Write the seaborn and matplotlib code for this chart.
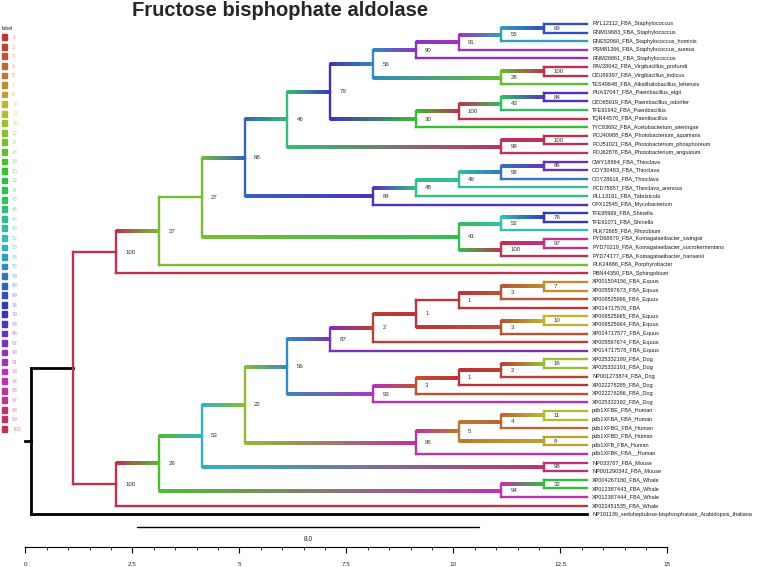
import matplotlib
matplotlib.use("Agg")
import matplotlib.pyplot as plt
import seaborn as sns
import numpy as np
from matplotlib.collections import LineCollection
from matplotlib.patches import Patch

title = "Fructose bisphophate aldolase"

# bootstrap values shown in the legend (discrete colour levels)
support_levels = [1, 2, 3, 4, 5, 7, 8, 10, 11, 16, 22, 27, 28, 29, 30, 32, 41, 43, 46, 48,
                  49, 52, 53, 55, 56, 58, 68, 69, 76, 79, 84, 86, 87, 90, 91, 93, 94, 95,
                  97, 98, 99, 100]

# tree topology with support values as node labels
staph_clade = ("(((((RYL12112_FBA_Staphylococcus,RNM19683_FBA_Staphylococcus)69,"
               "RNE52060_FBA_Staphylococcus_hominis)55,PSM81266_FBA_Staphylococcus_aureus)91,"
               "RNM26861_FBA_Staphylococcus)90,((PAV28042_FBA_Virgibacillus_profundi,"
               "OZU89397_FBA_Virgibacillus_indicus)100,TES49648_FBA_Alkalihalobacillus_lehensis)28)56")
paeni_clade = ("((((PUA37047_FBA_Paenibacillus_elgii,OZO65919_FBA_Paenibacillus_odorifer)84,"
               "TFE91942_FBA_Paenibacillus)43,TQR44570_FBA_Paenibacillus)100,"
               "TYC83692_FBA_Acetobacterium_wieringae)30")
photo_clade = ("((POJ40988_FBA_Photobacterium_aquimaris,POJ51021_FBA_Photobacterium_phosphoreum)100,"
               "POJ62876_FBA_Photobacterium_angustum)99")
thio_clade = ("(((((OWY18864_FBA_Thioclava,OOY30483_FBA_Thioclava)86,OOY28616_FBA_Thioclava)58,"
              "PCD75857_FBA_Thioclava_arenosa)49,PLL13161_FBA_Tabrizicola)48,OPX12545_FBA_Mycobacterium)84")
alpha_clade = ("(((TFE95969_FBA_Shinella,TFE91071_FBA_Shinella)76,PLK72665_FBA_Rhizobium)52,"
               "((PYD68870_FBA_Komagataeibacter_swingsii,PYD70219_FBA_Komagataeibacter_sucrofermentans)97,"
               "PYD74177_FBA_Komagataeibacter_hansenii)100)41")
bacteria = (f"(((((({staph_clade},{paeni_clade})79,{photo_clade})46,{thio_clade})68,{alpha_clade})27,"
            "PLK24686_FBA_Porphyrobacter)27,PBN44350_FBA_Sphingobium)100")

equus_clade = ("((((((XP001504156_FBA_Equus,XP005597673_FBA_Equus)7,XP008525966_FBA_Equus)3,"
               "XP014717576_FBA)1,((XP008525965_FBA_Equus,XP008525964_FBA_Equus)10,"
               "XP014717577_FBA_Equus)3)1,XP005597674_FBA_Equus)2,XP014717578_FBA_Equus)87")
dog_clade = ("(((((XP025332189_FBA_Dog,XP025332191_FBA_Dog)16,NP001273874_FBA_Dog)2,"
             "XP022278285_FBA_Dog)1,XP022278286_FBA_Dog)3,XP025332192_FBA_Dog)93")
human_clade = ("((((pdb1XFBE_FBA_Human,pdb1XFBA_FBA_Human)11,pdb1XFBG_FBA_Human)4,"
               "(pdb1XFBD_FBA_Human,pdb1XFB_FBA_Human)8)5,pdb1XFBK_FBA__Human)95")
animals = (f"((((({equus_clade},{dog_clade})56,{human_clade})22,"
           "(NP033787_FBA_Mouse,NP001290342_FBA_Mouse)98)53,"
           "((XP004267180_FBA_Whale,XP012387443_FBA_Whale)32,XP012387444_FBA_Whale)94)29,"
           "XP022451535_FBA_Whale)100")
outgroup = "NP191139_sedoheptulose-bisphosphatase_Arabidopsis_thaliana"
newick = f"(({bacteria},{animals})100,{outgroup});"

scale_bar_start = 2.6
scale_bar_width = 8.0
x_ticks = [0, 2.5, 5, 7.5, 10, 12.5, 15]
x_tick_labels = ["0", "2.5", "5", "7.5", "10", "12.5", "15"]


def parse_newick(s):
    pos = 0

    def node():
        nonlocal pos
        children = []
        if s[pos] == "(":
            pos += 1
            while True:
                children.append(node())
                if s[pos] == ",":
                    pos += 1
                else:
                    break
            pos += 1
        start = pos
        while pos < len(s) and s[pos] not in ",();":
            pos += 1
        return {"name": s[start:pos], "children": children}

    return node()


tips = []


def layout(n):
    if not n["children"]:
        n["y"] = len(tips)
        n["h"] = 0
        tips.append(n)
    else:
        for c in n["children"]:
            layout(c)
        n["y"] = np.mean([n["children"][0]["y"], n["children"][-1]["y"]])
        n["h"] = max(c["h"] for c in n["children"]) + 1


root = parse_newick(newick)
layout(root)
root_x = 0.12
max_h = root["h"]


def set_x(n):
    n["x"] = root_x + (max_h - n["h"])
    for c in n["children"]:
        set_x(c)


set_x(root)

sns.set_theme(style="white")
plt.rcParams["font.family"] = ["Liberation Sans", "DejaVu Sans"]
palette = sns.hls_palette(len(support_levels), h=0.99, l=0.47, s=0.58)
level_color = dict(zip(support_levels, palette))
BLACK = (0, 0, 0)


def node_color(n, parent_color):
    if n["children"] and n["name"]:
        return level_color[int(n["name"])]
    return parent_color


fig = plt.figure(figsize=(7.57, 5.67), dpi=100)
ax = fig.add_axes([0, 20 / 567, 1, 547 / 567])

solid_segs, solid_cols = [], []
grad_segs, grad_cols = [], []


def draw(n, color):
    for c in n["children"]:
        if n is root:
            # edges leaving the root are plain black
            solid_segs.append([(n["x"], n["y"]), (n["x"], c["y"])])
            solid_cols.append(BLACK)
            solid_segs.append([(n["x"], c["y"]), (c["x"], c["y"])])
            solid_cols.append(BLACK)
            draw(c, node_color(c, BLACK))
            continue
        ccol = node_color(c, color)
        solid_segs.append([(n["x"], n["y"]), (n["x"], c["y"])])
        solid_cols.append(color)
        if ccol == color:
            solid_segs.append([(n["x"], c["y"]), (c["x"], c["y"])])
            solid_cols.append(color)
        else:
            # colour fades from parent to child along the branch
            xs = np.linspace(n["x"], c["x"], 41)
            c0, c1 = np.array(color), np.array(ccol)
            for k in range(40):
                t = (k + 0.5) / 40
                grad_segs.append([(xs[k], c["y"]), (xs[k + 1], c["y"])])
                grad_cols.append(tuple(c0 * (1 - t) + c1 * t))
        draw(c, ccol)


draw(root, BLACK)
solid_segs.append([(root["x"] - 0.12, root["y"]), (root["x"], root["y"])])
solid_cols.append(BLACK)

ax.add_collection(LineCollection(grad_segs, colors=grad_cols, linewidths=1.45, capstyle="butt",
                                 antialiaseds=False))
lws = [2.0 if c == BLACK else 1.7 for c in solid_cols]
ax.add_collection(LineCollection(solid_segs, colors=solid_cols, linewidths=lws,
                                 capstyle="projecting"))


# node support labels (the node next to the root carries none)
def labels(n):
    for c in n["children"]:
        if c["children"] and n is not root:
            ax.text(c["x"] + 0.22, c["y"], c["name"], fontsize=4.4, color="#333333",
                    va="center", ha="left")
        labels(c)


labels(root)

for t in tips:
    ax.text(t["x"] + 0.12, t["y"], t["name"], fontsize=3.95, color="#1a1a1a", va="center",
            ha="left")

# scale bar
ax.plot([scale_bar_start, scale_bar_start + scale_bar_width], [58.5, 58.5], color="black", lw=1.0)
ax.text(scale_bar_start + scale_bar_width / 2, 59.9, f"{scale_bar_width:.1f}", fontsize=4.8,
        ha="center", va="center", color="#222222")

ax.set_xlim(-25.4 / 42.8, (757 - 25.4) / 42.8)
ax.set_ylim((547 - 24) / 8.6, -24 / 8.6)
for side in ["top", "left", "right"]:
    ax.spines[side].set_visible(False)
ax.spines["bottom"].set_bounds(0, 15)
ax.spines["bottom"].set_color("black")
ax.spines["bottom"].set_linewidth(0.8)
ax.set_yticks([])
ax.set_xticks(x_ticks)
ax.set_xticklabels(x_tick_labels, fontsize=4.5)
ax.set_xticks(np.arange(0, 15.01, 0.5), minor=True)
ax.tick_params(axis="x", which="major", direction="out", length=4, width=0.8, pad=7,
               bottom=True, color="black")
ax.tick_params(axis="x", which="minor", direction="out", length=2, width=0.6, bottom=True,
               color="black")
ax.grid(False)

fig.text(280 / 757, 1 - 10 / 567, title, ha="center", va="center", fontsize=14.5,
         fontweight="bold")

handles = [Patch(facecolor=level_color[v], edgecolor=level_color[v]) for v in support_levels]
leg = fig.legend(handles, [str(v) for v in support_levels], title="label", loc="upper left",
                 bbox_to_anchor=(0.0, 1 - 24 / 567), frameon=False, fontsize=3.8,
                 title_fontsize=3.8, handlelength=1.0, handleheight=1.3, handletextpad=1.0,
                 labelspacing=0.72, borderaxespad=0, borderpad=0.3)
leg._legend_box.align = "left"
for txt, v in zip(leg.get_texts(), support_levels):
    txt.set_color(tuple(np.array(level_color[v]) * 0.55 + 0.45))

fig.savefig("out.png", dpi=100)
